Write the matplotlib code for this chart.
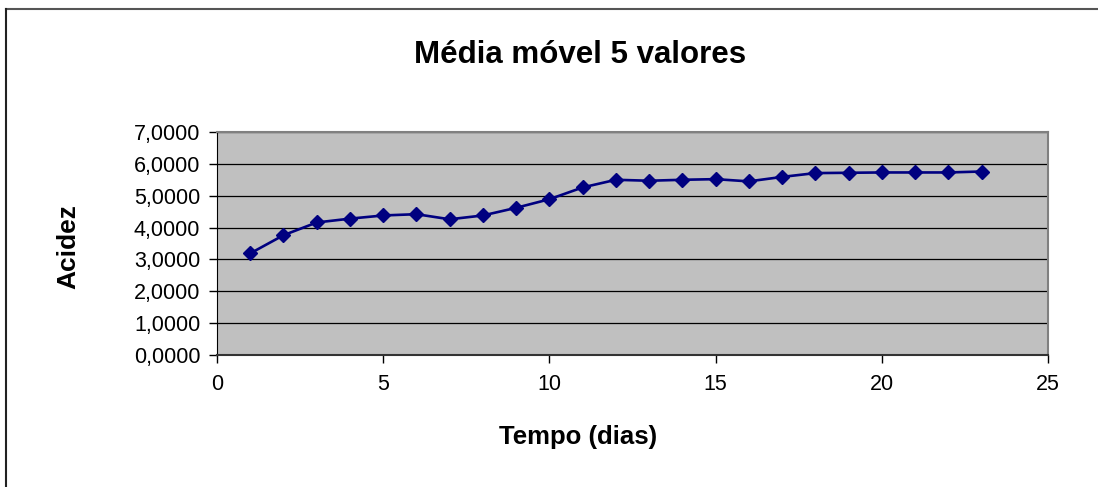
import matplotlib.pyplot as plt
from matplotlib.lines import Line2D
from matplotlib.ticker import FuncFormatter

dias = [1, 2, 3, 4, 5, 6, 7, 8, 9, 10, 11, 12, 13, 14, 15, 16, 17, 18, 19, 20, 21, 22, 23]
acidez = [3.19, 3.76, 4.16, 4.28, 4.38, 4.42, 4.26, 4.38, 4.62, 4.89, 5.26, 5.50,
          5.47, 5.50, 5.52, 5.45, 5.59, 5.71, 5.72, 5.73, 5.73, 5.73, 5.76]

plt.rcParams['font.family'] = ['Liberation Sans', 'DejaVu Sans']

W, H = 1098, 487
fig = plt.figure(figsize=(W / 100, H / 100), dpi=100)

# moldura do gráfico (só topo e esquerda aparecem)
fig.add_artist(Line2D([6 / W, 1.0], [1 - 9 / H, 1 - 9 / H], color='#555555', lw=1.5,
                      transform=fig.transFigure))
fig.add_artist(Line2D([6 / W, 6 / W], [0, 1 - 9 / H], color='#222222', lw=1.5,
                      transform=fig.transFigure))

ax = fig.add_axes([217 / W, 1 - 355 / H, (1048 - 217) / W, (355 - 132) / H])
ax.set_facecolor('#C0C0C0')

ax.plot(dias, acidez, color='#000080', lw=1.9, marker='D', markersize=7.5,
        markerfacecolor='#000080', markeredgecolor='#000080', zorder=3)

ax.set_xlim(0, 25)
ax.set_ylim(0, 7)
ax.set_xticks([0, 5, 10, 15, 20, 25])
ax.set_yticks(range(0, 8))
ax.yaxis.set_major_formatter(FuncFormatter(lambda v, p: f'{v:.4f}'.replace('.', ',')))
ax.grid(axis='y', color='black', lw=0.9)
ax.set_axisbelow(True)

ax.spines['top'].set_color('#808080')
ax.spines['right'].set_color('#808080')
ax.spines['top'].set_linewidth(1.5)
ax.spines['right'].set_linewidth(1.5)
ax.spines['left'].set_color('black')
ax.spines['bottom'].set_color('#333333')
ax.spines['bottom'].set_linewidth(1.5)

ax.tick_params(axis='both', direction='out', length=6, width=1, labelsize=15.5, colors='black')
ax.tick_params(axis='x', pad=8)
ax.tick_params(axis='y', pad=6)

fig.text(580 / W, 1 - 55 / H, 'Média móvel 5 valores', ha='center', va='center',
         fontsize=22.5, fontweight='bold')
fig.text(578 / W, 1 - 437 / H, 'Tempo (dias)', ha='center', va='center',
         fontsize=18.5, fontweight='bold')
fig.text(68 / W, 1 - 247 / H, 'Acidez', ha='center', va='center', rotation=90,
         fontsize=19, fontweight='bold')

fig.savefig('out.png', dpi=100)
